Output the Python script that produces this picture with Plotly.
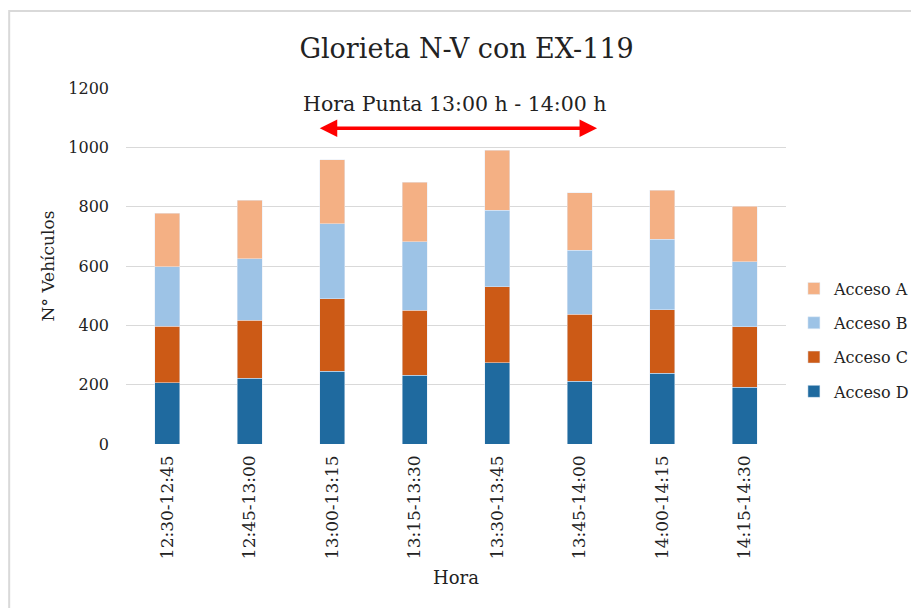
import plotly.graph_objects as go

# Intervalos de 15 minutos
horas = ['12:30-12:45', '12:45-13:00', '13:00-13:15', '13:15-13:30',
         '13:30-13:45', '13:45-14:00', '14:00-14:15', '14:15-14:30']

# Vehiculos por acceso
acceso_d = [206, 221, 246, 232, 274, 212, 238, 191]
acceso_c = [191, 196, 244, 219, 256, 225, 215, 204]
acceso_b = [200, 208, 253, 230, 258, 216, 237, 219]
acceso_a = [180, 196, 216, 202, 202, 194, 165, 188]

font_name = 'DejaVu Serif'

fig = go.Figure()
fig.add_trace(go.Bar(x=horas, y=acceso_d, name='Acceso D', marker_color='#1F6A9F', legendgroup='d', legendrank=4))
fig.add_trace(go.Bar(x=horas, y=acceso_c, name='Acceso C', marker_color='#CC5A16', legendgroup='c', legendrank=3))
fig.add_trace(go.Bar(x=horas, y=acceso_b, name='Acceso B', marker_color='#9DC3E6', legendgroup='b', legendrank=2))
fig.add_trace(go.Bar(x=horas, y=acceso_a, name='Acceso A', marker_color='#F4B084', legendgroup='a', legendrank=1))

# Flecha de hora punta
fig.add_annotation(x=5.21, y=1064, ax=1.83, ay=1064, xref='x', yref='y', axref='x', ayref='y',
                   text='', showarrow=True, arrowhead=2, startarrowhead=2, arrowside='end+start',
                   arrowcolor='#FF0000', arrowwidth=3.5, arrowsize=1, startarrowsize=1)
fig.add_annotation(x=3.49, y=1145, xref='x', yref='y', text='Hora Punta 13:00 h - 14:00 h',
                   showarrow=False, font=dict(size=20.5, color='#222222', family=font_name))

# Marco exterior
fig.add_shape(type='rect', xref='paper', yref='paper', x0=-0.177, x1=1.25, y0=-0.47, y1=1.216,
              line=dict(color='#D9D9D9', width=2), layer='below')

# la pagina deja 8 px de margen, por eso l y t van 8 px por debajo
fig.update_layout(
    width=919, height=608,
    barmode='stack', bargap=0.7,
    plot_bgcolor='white', paper_bgcolor='white',
    margin=dict(l=118, r=141, t=80, b=172, autoexpand=False),
    title=dict(text='Glorieta N-V con EX-119', x=0.499, xanchor='center', y=0.934, yanchor='middle',
               font=dict(size=27, color='#222222', family=font_name)),
    font=dict(family=font_name, color='#222222'),
    legend=dict(x=1.012, y=0.292, xanchor='left', yanchor='middle', traceorder='grouped',
                tracegroupgap=10.5, font=dict(size=16, color='#222222', family=font_name),
                itemwidth=30),
    xaxis=dict(title=dict(text='Hora', font=dict(size=18), standoff=13),
               tickangle=-90, tickfont=dict(size=17), ticklabelstandoff=7,
               showgrid=False, showline=False, ticks='', automargin=False),
    yaxis=dict(title=dict(text='N° Vehículos', font=dict(size=17), standoff=9),
               range=[0, 1200], dtick=200, tickfont=dict(size=16), ticklabelstandoff=16,
               gridcolor='#D9D9D9', gridwidth=1, zeroline=False, showline=False, ticks='',
               automargin=False),
)

fig.write_html('out.html')
